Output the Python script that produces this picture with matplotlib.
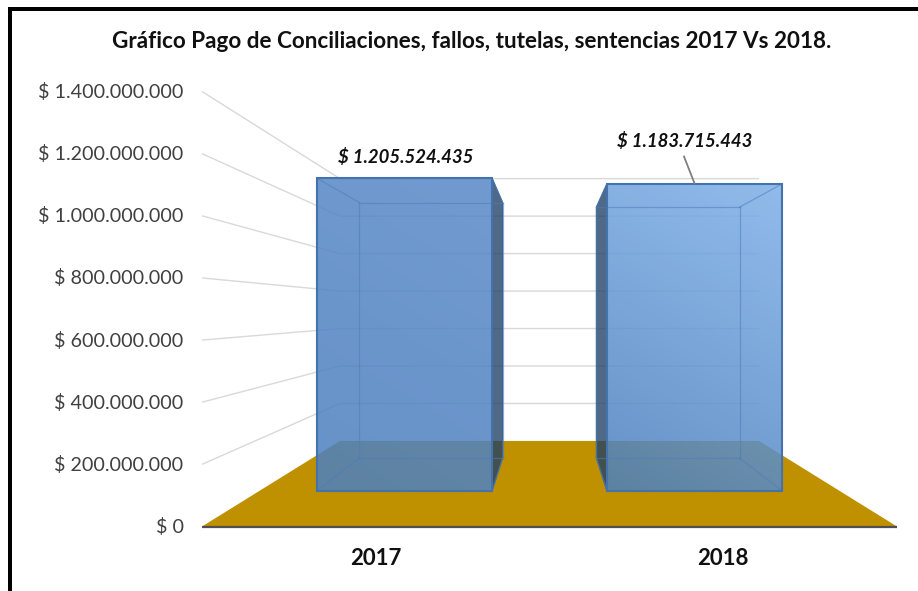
import numpy as np
import matplotlib
matplotlib.use("Agg")
import matplotlib.pyplot as plt
from matplotlib.patches import Polygon, Rectangle
from matplotlib.colors import to_rgb

categories = ["2017", "2018"]
values = [1205524435, 1183715443]
value_labels = ["$ 1.205.524.435", "$ 1.183.715.443"]
ticks = [0, 200000000, 400000000, 600000000, 800000000, 1000000000, 1200000000, 1400000000]
tick_labels = ["$ 0", "$ 200.000.000", "$ 400.000.000", "$ 600.000.000",
               "$ 800.000.000", "$ 1.000.000.000", "$ 1.200.000.000", "$ 1.400.000.000"]
title = "Gráfico Pago de Conciliaciones, fallos, tutelas, sentencias 2017 Vs 2018."

W, H = 918, 591
FONT = "Lato"
plt.rcParams["font.family"] = [FONT, "DejaVu Sans"]

# perspective scale of the 3-D plot, expressed in figure pixels
CX, VY = 549.5, 311.0
Y0 = 215.5
VSCALE = 435.0 / ticks[-1]
HALF = 347.5
S_FRONT, S_BACK = 1.0, 0.603
BAR_FRONT, BAR_BACK = 0.835, 0.682
BAR_W = 0.604


def proj(cat, val, s):
    """cat: category axis (0..2), val: money value, s: depth scale."""
    x = CX + (cat - 1.0) * HALF * s
    y = VY + (Y0 - val * VSCALE) * s
    return (x, y)


fig = plt.figure(figsize=(W / 100, H / 100), dpi=100, facecolor="white")
ax = fig.add_axes([0, 0, 1, 1])
ax.set_axis_off()

# frame
ax.add_patch(Rectangle((8.3, 7.3), W, 4.2, color="black", lw=0, zorder=10))
ax.add_patch(Rectangle((8.3, 7.3), 4.0, H, color="black", lw=0, zorder=10))

# title
ax.text(471.5, 42, title, ha="center", va="center", fontsize=16.2, fontweight="bold",
        color="#101010", zorder=12)

# gridlines on side wall and back wall
GRID = "#D9D9D9"
for t in ticks[1:]:
    a, b, c = proj(0, t, S_FRONT), proj(0, t, S_BACK), proj(2, t, S_BACK)
    ax.plot([a[0], b[0], c[0]], [a[1], b[1], c[1]], color=GRID, lw=1.0, zorder=1,
            solid_capstyle="butt", solid_joinstyle="miter")

# floor
floor = [proj(0, 0, S_FRONT), proj(0, 0, S_BACK), proj(2, 0, S_BACK), proj(2, 0, S_FRONT)]
ax.add_patch(Polygon(floor, closed=True, facecolor="#BF9000", edgecolor="none", zorder=2))

# axis line
p0, p1 = proj(0, 0, S_FRONT), proj(2, 0, S_FRONT)
ax.plot([p0[0], p1[0]], [p0[1], p1[1]], color="#505050", lw=1.6, zorder=3, solid_capstyle="butt")

# tick labels
for t, lab in zip(ticks, tick_labels):
    p = proj(0, t, S_FRONT)
    ax.text(p[0] - 18.5, p[1] + 0.5, lab, ha="right", va="center", fontsize=14.2,
            color="#404040", zorder=5)

# category labels
for i, lab in enumerate(categories):
    p = proj(i + 0.5, 0, S_FRONT)
    ax.text(p[0], p[1] + 32, lab, ha="center", va="center", fontsize=16,
            fontweight="bold", color="#101010", zorder=5)

ALPHA = 0.86
# gradient colours of each front face: (bottom-left, top-right)
grad = [("#4C80C0", "#5A8AC8"), ("#4C80BE", "#7FB0E8")]

for i, v in enumerate(values):
    xl, xr = i + 0.5 - BAR_W / 2, i + 0.5 + BAR_W / 2
    fbl, fbr, ftr, ftl = (proj(xl, 0, BAR_FRONT), proj(xr, 0, BAR_FRONT),
                          proj(xr, v, BAR_FRONT), proj(xl, v, BAR_FRONT))
    bbl, bbr, btr, btl = (proj(xl, 0, BAR_BACK), proj(xr, 0, BAR_BACK),
                          proj(xr, v, BAR_BACK), proj(xl, v, BAR_BACK))
    # dark side face that sticks out of the front face
    side = [fbr, bbr, btr, ftr] if i == 0 else [fbl, bbl, btl, ftl]
    ax.add_patch(Polygon(side, closed=True, facecolor="#1F3F66", alpha=0.78, edgecolor="none", zorder=4))
    ax.add_patch(Polygon(side, closed=True, fill=False, edgecolor="#3E6494", lw=0.9, zorder=4.1))

    # front face with gradient
    c0, c1 = np.array(to_rgb(grad[i][0])), np.array(to_rgb(grad[i][1]))
    n = 64
    u, w = np.meshgrid(np.linspace(0, 1, n), np.linspace(0, 1, n))
    f = (0.25 * u + 0.75 * w)[..., None]
    rgba = np.concatenate([c0 + (c1 - c0) * f, np.full((n, n, 1), ALPHA)], axis=2)
    im = ax.imshow(rgba, extent=(fbl[0], fbr[0], fbl[1], ftl[1]), origin="lower",
                   aspect="auto", zorder=5, interpolation="bilinear")
    clip = Polygon([fbl, fbr, ftr, ftl], closed=True, transform=ax.transData)
    im.set_clip_path(clip)

    # inner edges
    inner = "#4E7DB8"
    for a, b in [(bbl, bbr), (bbr, btr), (btr, btl), (btl, bbl),
                 (fbl, bbl), (fbr, bbr), (ftr, btr), (ftl, btl)]:
        ax.plot([a[0], b[0]], [a[1], b[1]], color=inner, lw=0.9, alpha=0.55, zorder=5.5)
    ax.add_patch(Polygon([fbl, fbr, ftr, ftl], closed=True, fill=False, edgecolor="#4472AC",
                         lw=1.5, zorder=6))

# value labels
top0 = proj(0.5 - BAR_W / 2, values[0], BAR_FRONT)
ax.text(405.5, top0[1] - 21.5, value_labels[0], ha="center", va="center", fontsize=13.3,
        fontweight="bold", style="italic", color="#101010", zorder=12)
ax.text(684.5, 141, value_labels[1], ha="center", va="center", fontsize=13.3,
        fontweight="bold", style="italic", color="#101010", zorder=12)
top1 = proj(1.5, values[1], BAR_FRONT)
ax.plot([684, 694.5], [156.5, top1[1] - 0.5], color="#7F7F7F", lw=1.3, zorder=7)

ax.set_xlim(0, W)
ax.set_ylim(H, 0)
fig.savefig("out.png", dpi=100, facecolor="white")
